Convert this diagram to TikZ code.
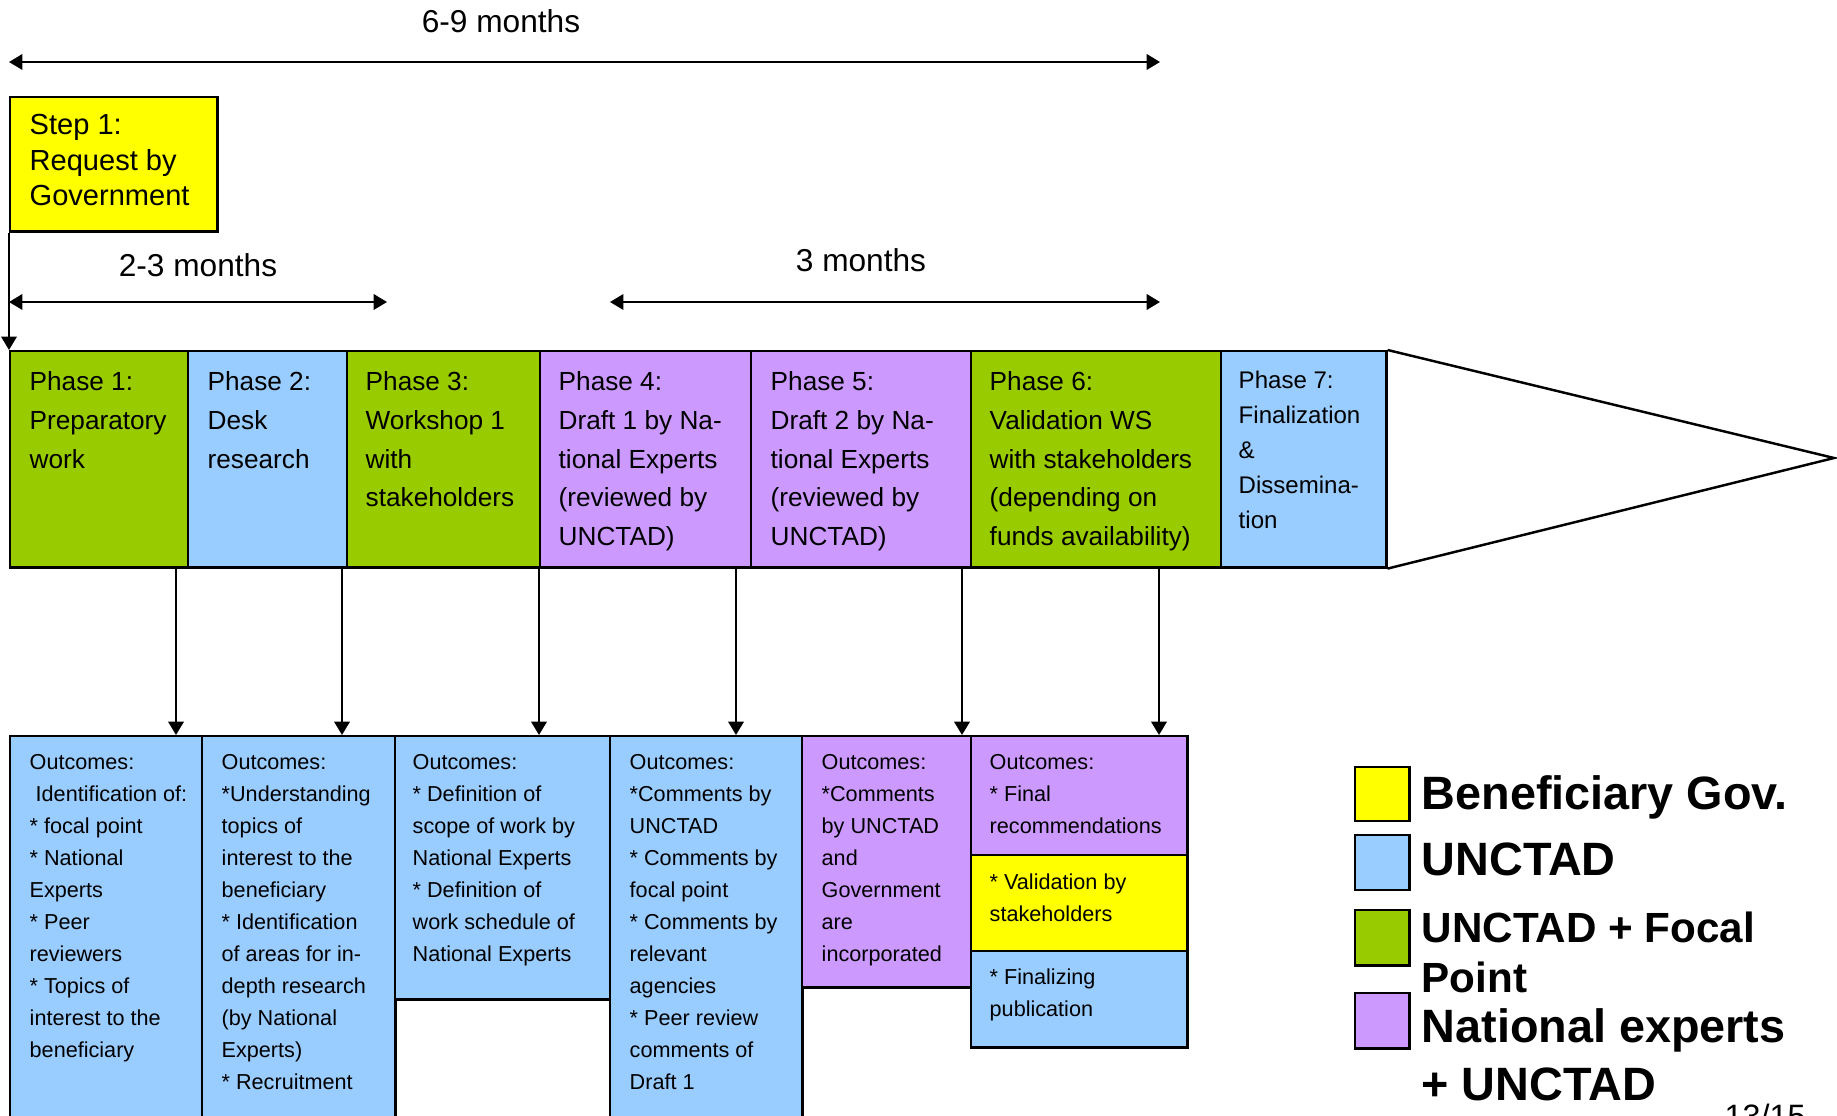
\documentclass[tikz,border=0pt]{standalone}
\usepackage{fontspec}
\setmainfont{Liberation Sans}
\usetikzlibrary{arrows.meta}

\definecolor{govyellow}{HTML}{FFFF00}
\definecolor{unctadblue}{HTML}{99CCFF}
\definecolor{focalgreen}{HTML}{99CC00}
\definecolor{expertpurple}{HTML}{CC99FF}

\tikzset{
  box/.style={draw, line width=0.7pt, anchor=north west, inner sep=0pt},
  txt/.style={anchor=north west, inner sep=0pt, align=left},
  phasetxt/.style={txt, font=\fontsize{7.45pt}{11pt}\selectfont},
  outtxt/.style={txt, font=\fontsize{6.15pt}{9.1pt}\selectfont},
  legtxt/.style={txt, font=\bfseries\fontsize{13.3pt}{14.2pt}\selectfont},
  span/.style={<->, line width=0.6pt},
  down/.style={->, line width=0.6pt},
  spantxt/.style={anchor=north, inner sep=0pt, font=\fontsize{9pt}{11pt}\selectfont}
}

\begin{document}
\begin{tikzpicture}[x=0.01cm, y=-0.01cm, >={Triangle[length=3.8pt,width=4.4pt]}]
  \useasboundingbox (0,0) rectangle (1837,1116);
  \clip (0,0) rectangle (1837,1116);

  % time spans
  \coordinate (all0) at (9,62);
  \coordinate (all1) at (1160,62);
  \coordinate (first0) at (9,302);
  \coordinate (first1) at (387,302);
  \coordinate (draft0) at (610,302);
  \coordinate (draft1) at (1160,302);
  \node[spantxt] (alltxt) at (501,9) {6-9 months};
  \node[spantxt] (firsttxt) at (198,253) {2-3 months};
  \node[spantxt] (drafttxt) at (861,248) {3 months};

  % step 1
  \node[box, fill=govyellow, minimum width=2.07cm, minimum height=1.34cm] (step) at (9,96) {};
  \node[txt, font=\fontsize{8.26pt}{10pt}\selectfont] (steptxt) at (29,114) {Step 1:\\Request by\\Government};

  % phases
  \node[box, fill=focalgreen, minimum width=1.78cm, minimum height=2.16cm] (p1) at (9,350) {};
  \node[box, fill=unctadblue, minimum width=1.59cm, minimum height=2.16cm] (p2) at (187,350) {};
  \node[box, fill=focalgreen, minimum width=1.93cm, minimum height=2.16cm] (p3) at (346,350) {};
  \node[box, fill=expertpurple, minimum width=2.11cm, minimum height=2.16cm] (p4) at (539,350) {};
  \node[box, fill=expertpurple, minimum width=2.20cm, minimum height=2.16cm] (p5) at (750,350) {};
  \node[box, fill=focalgreen, minimum width=2.50cm, minimum height=2.16cm] (p6) at (970,350) {};
  \node[box, fill=unctadblue, minimum width=1.65cm, minimum height=2.16cm] (p7) at (1220,350) {};
  \coordinate (tip) at (1834,458);
  \draw[line width=0.7pt] (p7.north east) -- (tip) -- (p7.south east);

  \node[phasetxt] (p1txt) at (29,371) {Phase 1:\\Preparatory\\work};
  \node[phasetxt] (p2txt) at (207,371) {Phase 2:\\Desk\\research};
  \node[phasetxt] (p3txt) at (365,371) {Phase 3:\\Workshop 1\\with\\stakeholders};
  \node[phasetxt] (p4txt) at (558,371) {Phase 4:\\Draft 1 by Na-\\tional Experts\\(reviewed by\\UNCTAD)};
  \node[phasetxt] (p5txt) at (770,371) {Phase 5:\\Draft 2 by Na-\\tional Experts\\(reviewed by\\UNCTAD)};
  \node[phasetxt] (p6txt) at (989,371) {Phase 6:\\Validation WS\\with stakeholders\\(depending on\\funds availability)};
  \node[txt, font=\fontsize{6.84pt}{10pt}\selectfont] (p7txt) at (1238,370) {Phase 7:\\Finalization\\\&\\Dissemina-\\tion};

  % outcomes
  \node[box, fill=unctadblue, minimum width=1.92cm, minimum height=4cm] (o1) at (9,735) {};
  \node[box, fill=unctadblue, minimum width=1.93cm, minimum height=4cm] (o2) at (201,735) {};
  \node[box, fill=unctadblue, minimum width=2.15cm, minimum height=2.63cm] (o3) at (394,735) {};
  \node[box, fill=unctadblue, minimum width=1.92cm, minimum height=4cm] (o4) at (609,735) {};
  \node[box, fill=expertpurple, minimum width=1.69cm, minimum height=2.51cm] (o5) at (801,735) {};
  \node[box, fill=expertpurple, minimum width=2.16cm, minimum height=1.19cm] (o6) at (970,735) {};
  \node[box, fill=govyellow, minimum width=2.16cm, minimum height=0.96cm] (o6b) at (970,854) {};
  \node[box, fill=unctadblue, minimum width=2.16cm, minimum height=0.96cm] (o6c) at (970,950) {};

  \node[outtxt] (o1txt) at (29,754) {Outcomes:\\ \ Identification of:\\* focal point\\* National\\Experts\\* Peer\\reviewers\\* Topics of\\interest to the\\beneficiary};
  \node[outtxt] (o2txt) at (221,754) {Outcomes:\\*Understanding\\topics of\\interest to the\\beneficiary\\* Identification\\of areas for in-\\depth research\\(by National\\Experts)\\* Recruitment};
  \node[outtxt] (o3txt) at (412,754) {Outcomes:\\* Definition of\\scope of work by\\National Experts\\* Definition of\\work schedule of\\National Experts};
  \node[outtxt] (o4txt) at (629,754) {Outcomes:\\*Comments by\\UNCTAD\\* Comments by\\focal point\\* Comments by\\relevant\\agencies\\* Peer review\\comments of\\Draft 1};
  \node[outtxt] (o5txt) at (821,754) {Outcomes:\\*Comments\\by UNCTAD\\and\\Government\\are\\incorporated};
  \node[outtxt] (o6txt) at (989,754) {Outcomes:\\* Final\\recommendations};
  \node[outtxt] (o6btxt) at (989,873) {* Validation by\\stakeholders};
  \node[outtxt] (o6ctxt) at (989,968) {* Finalizing\\publication};

  % connectors
  \draw[span] (all0) -- (all1);
  \draw[span] (first0) -- (first1);
  \draw[span] (draft0) -- (draft1);
  \draw[down] (step.south west) -- (p1.north west);

  \coordinate (a1) at (176,0);
  \coordinate (a2) at (342,0);
  \coordinate (a3) at (539,0);
  \coordinate (a4) at (736,0);
  \coordinate (a5) at (962,0);
  \coordinate (a6) at (1159,0);
  \draw[down] (a1 |- p1.south) -- (a1 |- o1.north);
  \draw[down] (a2 |- p3.south) -- (a2 |- o2.north);
  \draw[down] (a3 |- p4.south) -- (a3 |- o3.north);
  \draw[down] (a4 |- p5.south) -- (a4 |- o4.north);
  \draw[down] (a5 |- p6.south) -- (a5 |- o5.north);
  \draw[down] (a6 |- p6.south) -- (a6 |- o6.north);

  % legend
  \node[box, fill=govyellow, minimum width=0.54cm, minimum height=0.54cm] (leg1) at (1354,766) {};
  \node[box, fill=unctadblue, minimum width=0.54cm, minimum height=0.55cm] (leg2) at (1354,834) {};
  \node[box, fill=focalgreen, minimum width=0.54cm, minimum height=0.55cm] (leg3) at (1354,909) {};
  \node[box, fill=expertpurple, minimum width=0.54cm, minimum height=0.55cm] (leg4) at (1354,992) {};
  \node[legtxt] (leg1txt) at (1421,775) {Beneficiary Gov.};
  \node[legtxt] (leg2txt) at (1421,842) {UNCTAD};
  \node[legtxt, font=\bfseries\fontsize{12pt}{14.4pt}\selectfont] (leg3txt) at (1421,911) {UNCTAD + Focal\\Point};
  \node[legtxt, font=\bfseries\fontsize{13.3pt}{16.5pt}\selectfont] (leg4txt) at (1421,1008) {National experts\\+ UNCTAD};

  \node[txt, font=\fontsize{9.2pt}{11pt}\selectfont] (pagenum) at (1724,1103) {13/15};
\end{tikzpicture}
\end{document}
